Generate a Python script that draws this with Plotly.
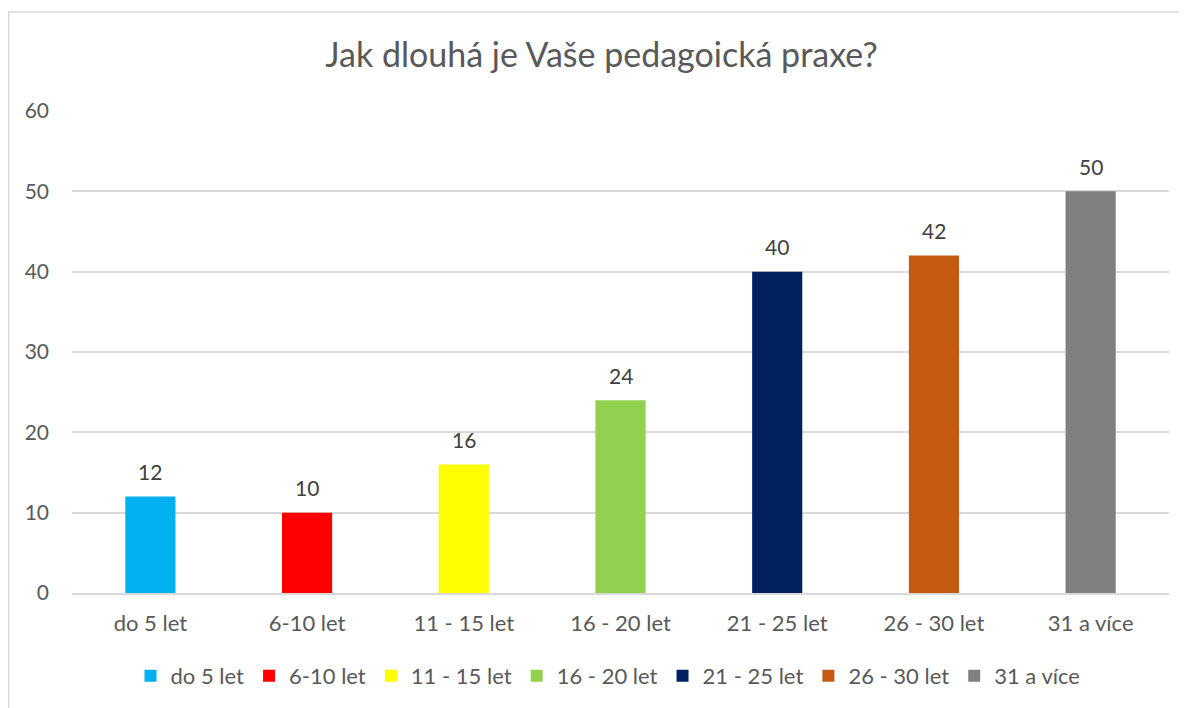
import plotly.graph_objects as go

categories = ["do 5 let", "6-10 let", "11 - 15 let", "16 - 20 let", "21 - 25 let", "26 - 30 let", "31 a více"]
values = [12, 10, 16, 24, 40, 42, 50]
colors = ["#00B0F0", "#FF0000", "#FFFF00", "#92D050", "#002060", "#C55A11", "#808080"]
title_text = "Jak dlouhá je Vaše pedagoická praxe?"
y_ticks = [0, 10, 20, 30, 40, 50, 60]

FONT = "Lato"
GREY = "#595959"

# page has an 8px body margin, so figure coordinates = screen - 8
W, H = 1187, 708
L, R, T, B = 64, 26, 103, 123
pw, ph = W - L - R, H - T - B

def px_to_paper_x(px):
    return (px - L) / pw

def px_to_paper_y(py):
    return (H - B - py) / ph

fig = go.Figure()
for cat, val, col in zip(categories, values, colors):
    fig.add_trace(go.Bar(
        x=[cat], y=[val], name=cat, marker=dict(color=col, line=dict(width=0)),
        width=0.32,
    ))
    fig.add_annotation(x=cat, y=val, text=str(val), showarrow=False,
                       yanchor="middle", yshift=25,
                       font=dict(family=FONT, size=21, color="#404040"))

fig.update_layout(
    width=W, height=H,
    margin=dict(l=L, r=R, t=T, b=B),
    barmode="overlay",
    paper_bgcolor="white", plot_bgcolor="white",
    title=dict(text=title_text, x=0.5, xanchor="center", y=1 - 47 / H, yanchor="middle",
               font=dict(family=FONT, size=34, color=GREY)),
    font=dict(family=FONT, size=21, color=GREY),
    xaxis=dict(categoryorder="array", categoryarray=categories, showgrid=False,
               showline=True, linecolor="#D9D9D9", linewidth=1.5, ticks="",
               ticklabelstandoff=10,
               tickfont=dict(family=FONT, size=22, color=GREY)),
    yaxis=dict(range=[0, 60], tickvals=y_ticks, showgrid=True, gridcolor="#D9D9D9",
               gridwidth=1.5, zeroline=False, showline=False, ticks="",
               ticklabelstandoff=22,
               tickfont=dict(family=FONT, size=21, color=GREY)),
    legend=dict(orientation="h", x=px_to_paper_x(600), xanchor="center", y=px_to_paper_y(668), yanchor="middle",
                font=dict(family=FONT, size=22, color=GREY), itemwidth=30,
                traceorder="normal", itemclick=False),
    showlegend=True,
)

fig.add_shape(type="rect", xref="paper", yref="paper",
              x0=px_to_paper_x(0.75), x1=px_to_paper_x(1200),
              y0=px_to_paper_y(720), y1=px_to_paper_y(4),
              line=dict(color="#D9D9D9", width=1.5), fillcolor="rgba(0,0,0,0)", layer="below")

fig.write_html("out.html")
